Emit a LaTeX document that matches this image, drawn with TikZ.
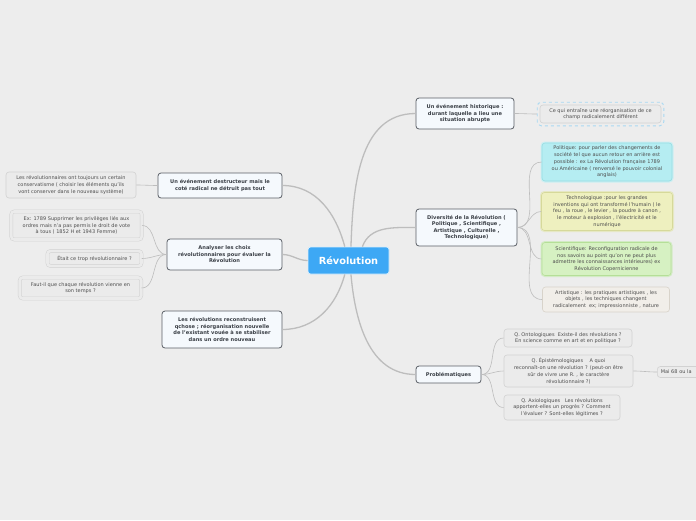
\documentclass[tikz,border=0pt]{standalone}
\usepackage{fontspec}
\setmainfont{DejaVu Sans}
\usetikzlibrary{fit}
\definecolor{bg}{HTML}{EDEDED}
\definecolor{revfill}{HTML}{3DA8F5}
\definecolor{mainfill}{HTML}{F5F9FD}
\definecolor{mainborder}{HTML}{5A5F66}
\definecolor{maintext}{HTML}{3A3F46}
\definecolor{leaffill}{HTML}{EBEBEB}
\definecolor{leafborder}{HTML}{D2D2D2}
\definecolor{leaftext}{HTML}{4E4E4E}
\definecolor{conncol}{HTML}{BDBDBD}
\definecolor{cyanfill}{HTML}{B5EDF2}
\definecolor{cyanborder}{HTML}{96DCE2}
\definecolor{cyanglow}{HTML}{CBEFF3}
\definecolor{yelfill}{HTML}{EEF0BF}
\definecolor{yelborder}{HTML}{D6D99A}
\definecolor{yelglow}{HTML}{E6E8C4}
\definecolor{grnfill}{HTML}{D6F1C2}
\definecolor{grnborder}{HTML}{B5DF98}
\definecolor{grnglow}{HTML}{D3EBC5}
\definecolor{begfill}{HTML}{F1EEE9}
\definecolor{begborder}{HTML}{D8D3CA}
\definecolor{dashblue}{HTML}{A9D9F2}
\tikzset{
  revnode/.style={draw=white!80!revfill, line width=0.8pt, fill=revfill, rounded corners=2.5pt,
    text=white, font=\fontsize{9.8}{11}\selectfont\bfseries, inner sep=1pt},
  mainnode/.style={draw=mainborder, line width=0.8pt, fill=mainfill, rounded corners=3pt,
    text=maintext, font=\fontsize{5.1}{6.5}\selectfont\bfseries, align=center, inner sep=1pt},
  leafnode/.style={draw=leafborder, line width=0.6pt, fill=leaffill, rounded corners=3pt,
    text=leaftext, font=\fontsize{5}{6.7}\selectfont, align=center, inner sep=1pt},
  dblleaf/.style={leafnode, double=leaffill, double distance=2.6pt, line width=0.5pt},
  colnode/.style 2 args={leafnode, fill=#1, draw=#2},
  conn/.style={draw=conncol, line width=1.3pt},
  sconn/.style={draw=conncol, line width=0.6pt},
}
\begin{document}
\begin{tikzpicture}[x=1pt,y=-1pt]
\fill[bg] (0,0) rectangle (696,520);
\useasboundingbox (0,0) rectangle (696,520);
\clip (0,0) rectangle (696,520);

% central
\node[revnode, minimum width=81pt, minimum height=27pt] (rev) at (348.5,260.5) {Révolution};

% main nodes
\node[mainnode, minimum width=98pt, minimum height=31pt] (hist) at (465,113.5)
  {Un événement historique :\\durant laquelle a lieu une\\situation abrupte};
\node[mainnode, minimum width=101pt, minimum height=37pt] (div) at (466.5,227.5)
  {Diversité de la Révolution (\\Politique , Scientifique ,\\Artistique , Culturelle ,\\Technologique)};
\node[mainnode, minimum width=65pt, minimum height=17pt] (prob) at (448.5,374.5)
  {Problématiques};
\node[mainnode, minimum width=124pt, minimum height=25pt] (destr) at (220,185.5)
  {Un événement destructeur mais le\\coté radical ne détruit pas tout};
\node[mainnode, minimum width=115pt, minimum height=31pt] (analy) at (224.5,254.5)
  {Analyser les choix\\révolutionnaires pour évaluer la\\Révolution};
\node[mainnode, minimum width=120pt, minimum height=37pt] (recon) at (222,329.5)
  {Les révolutions reconstruisent\\qchose ; réorganisation nouvelle\\de l'existant vouée à se stabiliser\\dans un ordre nouveau};

% right leaves
\node[leafnode, minimum width=121pt, minimum height=18pt] (cequi) at (600.5,114)
  {Ce qui entraîne une réorganisation de ce\\champ radicalement différent};
\node[fit=(cequi), inner sep=2.5pt, draw=dashblue, dashed, line width=0.9pt, rounded corners=4pt] (cequiframe) {};

\node[colnode={cyanfill}{cyanborder}, preaction={draw=cyanglow, line width=3pt}, minimum width=130pt, minimum height=38pt] (pol) at (607,162)
  {Politique: pour parler des changements de\\société tel que aucun retour en arrière est\\possible : ex La Révolution française 1789\\ou Américaine ( renversé le pouvoir colonial\\anglais)};
\node[colnode={yelfill}{yelborder}, preaction={draw=yelglow, line width=3pt}, minimum width=131pt, minimum height=38pt] (tech) at (607,211.5)
  {Technologique :pour les grandes\\inventions qui ont transformé l'humain ( le\\feu , la roue , le levier , la poudre à canon ,\\le moteur à explosion , l'électricité et le\\numérique};
\node[colnode={grnfill}{grnborder}, preaction={draw=grnglow, line width=3pt}, minimum width=129pt, minimum height=33pt] (sci) at (606.5,259)
  {Scientifique: Reconfiguration radicale de\\nos savoirs au point qu'on ne peut plus\\admettre les connaissances intérieures) ex\\Révolution Copernicienne};
\node[colnode={begfill}{begborder}, minimum width=127pt, minimum height=25pt] (art) at (606,299.5)
  {Artistique : les pratiques artistiques , les\\objets , les techniques changent\\radicalement\ \ ex; impressionniste , nature};

\node[leafnode, minimum width=128pt, minimum height=18pt] (ont) at (568,338)
  {Q. Ontologiques\ \ Existe-il des révolutions ?\\En science comme en art et en politique ?};
\node[leafnode, minimum width=129pt, minimum height=32pt] (epi) at (568.5,371)
  {Q. Épistémologiques\ \ \ \ A quoi\\reconnaît-on une révolution ? (peut-on être\\sûr de vivre une R. , le caractère\\révolutionnaire ?)};
\node[leafnode, minimum width=116pt, minimum height=25pt] (axi) at (562,407.5)
  {Q. Axiologiques\ \ \ Les révolutions\\apportent-elles un progrès ? Comment\\l'évaluer ? Sont-elles légitimes ?};
\node[leafnode, anchor=west, minimum height=11pt, text width=45pt, align=left, inner xsep=3.5pt] (mai) at (657,372)
  {Mai 68 ou la};

% left leaves
\node[leafnode, minimum width=130pt, minimum height=26pt] (conserv) at (71,185)
  {Les révolutionnaires ont toujours un certain\\conservatisme ( choisir les éléments qu'ils\\vont conserver dans le nouveau système)};
\node[dblleaf, minimum width=130.5pt, minimum height=28pt] (ex) at (76.5,225.5)
  {Ex: 1789 Supprimer les privilèges liés aux\\ordres mais n'a pas permis le droit de vote\\à tous ( 1852 H et 1943 Femme)};
\node[dblleaf, minimum width=94pt, minimum height=15pt] (etait) at (94.5,258.5)
  {Était ce trop révolutionnaire ?};
\node[dblleaf, minimum width=121.5pt, minimum height=21pt] (faut) at (80.5,288)
  {Faut-il que chaque révolution vienne en\\son temps ?};

% main connectors
\draw[conn] (rev.80) to[out=88,in=180] (hist.west);
\draw[conn] (rev.45) to[out=70,in=180] (div.west);
\draw[conn] (rev.-80) to[out=-85,in=180] (prob.west);
\draw[conn] (rev.105) to[out=105,in=0] (destr.east);
\draw[conn] (rev.west) to[out=180,in=0] (analy.east);
\draw[conn] (rev.-105) to[out=-105,in=0] (recon.east);

% small connectors
\draw[sconn] (hist.east) to[out=0,in=180] (cequiframe.west);
\draw[sconn] (div.east) to[out=0,in=180] (pol.west);
\draw[sconn] (div.east) to[out=0,in=180] (tech.west);
\draw[sconn] (div.east) to[out=0,in=180] (sci.west);
\draw[sconn] (div.east) to[out=0,in=180] (art.west);
\draw[sconn] (prob.east) to[out=0,in=180] (ont.west);
\draw[sconn] (prob.east) to[out=0,in=180] (epi.west);
\draw[sconn] (prob.east) to[out=0,in=180] (axi.west);
\draw[sconn] (epi.east) to[out=0,in=180] (mai.west);
\draw[sconn] (destr.west) to[out=180,in=0] (conserv.east);
\draw[sconn] (analy.west) to[out=180,in=0] (ex.east);
\draw[sconn] (analy.west) to[out=180,in=0] (etait.east);
\draw[sconn] (analy.west) to[out=180,in=0] (faut.east);
\end{tikzpicture}
\end{document}
